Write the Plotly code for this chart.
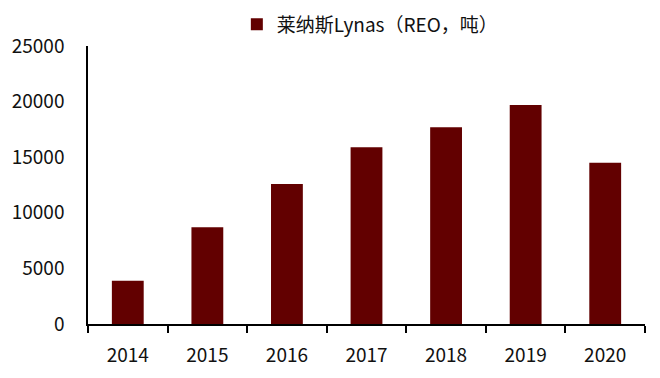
import plotly.graph_objects as go

years = ["2014", "2015", "2016", "2017", "2018", "2019", "2020"]
lynas_reo = [3900, 8700, 12600, 15900, 17700, 19700, 14500]
series_name = "莱纳斯Lynas（REO，吨）"

font_family = "Noto Sans CJK SC, Noto Sans, sans-serif"

fig = go.Figure()
fig.add_trace(go.Bar(
    x=years, y=lynas_reo, name=series_name,
    marker=dict(color="#620000", line=dict(width=0)),
    width=0.4,
))

fig.update_layout(
    width=644, height=362,
    margin=dict(l=80, r=7, t=38, b=46, autoexpand=False),
    paper_bgcolor="white", plot_bgcolor="white",
    font=dict(family=font_family, size=19, color="#111111"),
    showlegend=True,
    legend=dict(orientation="h", x=0.506, xanchor="center", y=1.009, yanchor="bottom",
                font=dict(size=19), itemwidth=30, bgcolor="rgba(0,0,0,0)"),
    bargap=0.6,
)
fig.update_xaxes(
    type="category", showline=True, linecolor="black", linewidth=1.5,
    ticks="outside", tickson="boundaries", ticklen=7, tickcolor="black", tickwidth=1.5,
    showgrid=False, ticklabelstandoff=13, automargin=False,
)
fig.update_yaxes(
    range=[0, 25000], dtick=5000, tickformat="d", showline=True, linecolor="black", linewidth=1.5,
    ticks="", showgrid=False, zeroline=False, ticklabelstandoff=18, automargin=False,
)

fig.write_html("out.html")
